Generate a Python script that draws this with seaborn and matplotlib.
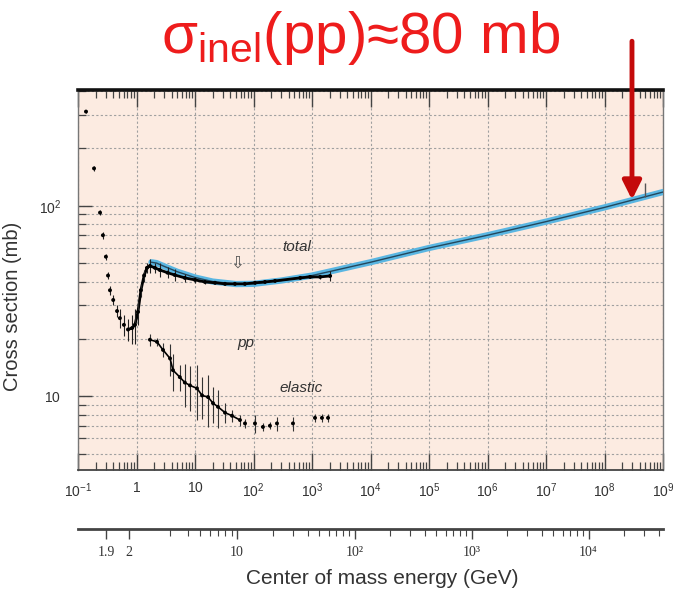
import numpy as np
import matplotlib
matplotlib.use("Agg")
import matplotlib.pyplot as plt
import matplotlib.ticker as mticker
import seaborn as sns

# ---------------- data ----------------
# total pp cross section: lab momentum (GeV/c), sigma (mb), error (mb)
total_p = [0.137, 0.188, 0.238, 0.267, 0.30, 0.326, 0.352, 0.40, 0.465, 0.52,
           0.61, 0.716, 0.84, 0.94, 1.06, 1.19, 1.35, 1.51, 1.70, 2.07, 2.5,
           3.4, 4.5, 6.7, 10, 14.8, 21.9, 32.5, 48, 71, 106, 157, 233, 630,
           930, 1380, 2040]
total_s = [312, 157, 92, 70, 54, 43, 36, 32, 28, 25.7, 23.7, 22.4, 22.8, 23.7,
           27.7, 36, 43, 47.2, 48.3, 47.2, 46, 44.5, 43.3, 41.8, 40.8, 39.8,
           39.4, 38.9, 38.9, 38.9, 39.4, 39.8, 40.3, 41.8, 42.3, 42.3, 42.8]
total_e = [6, 4, 3, 3, 2, 2, 2, 2, 2, 3, 3, 3, 4, 5, 4, 3, 3, 3, 4, 3, 4,
           3, 3, 2, 1.5, 1, 0.8, 0.6, 0.6, 0.5, 0.5, 0.5, 0.6, 0.8, 0.8,
           1.0, 2.5]

# elastic pp cross section
el_p = [1.70, 2.24, 2.84, 3.74, 4.2, 5.5, 6.7, 8.2, 10.8, 13.2, 16.7, 20.3,
        24.7, 32.6, 42.9, 58.7, 71.6, 106, 145, 191, 252, 473, 1125, 1480, 1880]
el_s = [19.8, 19.3, 17.5, 15.8, 13.7, 12.6, 11.8, 11.4, 11.0, 10.1, 9.9, 9.2,
        8.8, 8.2, 7.9, 7.5, 7.2, 7.2, 6.9, 7.0, 7.2, 7.2, 7.7, 7.7, 7.7]
el_e = [1.5, 1.0, 1.5, 3.0, 3.0, 2.0, 3.0, 3.0, 3.5, 2.5, 3.0, 2.0, 2.0, 1.0,
        0.6, 0.5, 0.4, 0.8, 0.3, 0.3, 0.6, 0.6, 0.4, 0.4, 0.4]

# fitted total cross section (blue band)
fit_p = [1.8, 2.2, 3.0, 5, 10, 20, 50, 100, 300, 1e3, 1e4, 1e5, 1e6, 1e7, 1e8, 1e9]
fit_s = [50.5, 50, 48, 45, 42, 40, 38.8, 38.9, 40.5, 43, 50.5, 60, 70, 82.5, 98, 118]

# cosmic-ray point
cr_p = [4.9e8]
cr_s = [121]
cr_e = [10]

# tick labels
x_major = [1e-1, 1, 10, 1e2, 1e3, 1e4, 1e5, 1e6, 1e7, 1e8, 1e9]
x_labels = [r"$\mathit{10^{-1}}$", r"$\mathit{1}$", r"$\mathit{10}$",
            r"$\mathit{10^{2}}$", r"$\mathit{10^{3}}$", r"$\mathit{10^{4}}$",
            r"$\mathit{10^{5}}$", r"$\mathit{10^{6}}$", r"$\mathit{10^{7}}$",
            r"$\mathit{10^{8}}$", r"$\mathit{10^{9}}$"]
y_major = [10, 100]
y_labels = [r"$\mathit{10}$", r"$\mathit{10^{2}}$"]
sqrts_major = [1.9, 2, 10, 100, 1000, 10000]
sqrts_labels = ["1.9", "2", "10", "10²", "10³", "10⁴"]
sqrts_minor = [3, 4, 5, 6, 7, 8, 9, 20, 30, 40, 50, 60, 70, 80, 90,
               200, 300, 400, 500, 600, 700, 800, 900,
               2000, 3000, 4000, 5000, 6000, 7000, 8000, 9000,
               20000, 30000, 40000]

# ---------------- style ----------------
sns.set_theme(style="white")
plt.rcParams["font.family"] = ["Liberation Sans", "DejaVu Sans"]
plt.rcParams["mathtext.fontset"] = "custom"
plt.rcParams["mathtext.rm"] = "Liberation Sans"
plt.rcParams["mathtext.it"] = "Liberation Sans:italic"
plt.rcParams["mathtext.bf"] = "Liberation Sans:bold"

fig = plt.figure(figsize=(6.78, 5.94), dpi=100)
fig.patch.set_facecolor("white")
ax = fig.add_axes([78 / 678, 1 - 470 / 594, 585 / 678, 380 / 594])
ax.set_facecolor("#fcebe1")
ax.set_xscale("log")
ax.set_yscale("log")
ax.set_xlim(1e-1, 1e9)
ax.set_ylim(4.1, 405)

# grid
ax.yaxis.set_minor_locator(mticker.LogLocator(base=10, subs=np.arange(2, 10)))
ax.xaxis.set_minor_locator(mticker.LogLocator(base=10, subs=np.arange(2, 10), numticks=30))
ax.xaxis.set_major_locator(mticker.FixedLocator(x_major))
ax.yaxis.set_major_locator(mticker.FixedLocator(y_major))
ax.xaxis.set_major_formatter(mticker.FixedFormatter(x_labels))
ax.yaxis.set_major_formatter(mticker.FixedFormatter(y_labels))
ax.xaxis.set_minor_formatter(mticker.NullFormatter())
ax.yaxis.set_minor_formatter(mticker.NullFormatter())
ax.grid(True, which="major", axis="x", color="#a0a0a0", lw=0.8, ls=(0, (2, 2)))
ax.grid(True, which="both", axis="y", color="#a0a0a0", lw=0.8, ls=(0, (2, 2)))

# fit band
sns.lineplot(x=fit_p, y=fit_s, ax=ax, color="#5ab6e2", lw=4.5, zorder=3)
sns.lineplot(x=fit_p, y=fit_s, ax=ax, color="#24475c", lw=1.0, zorder=4)

# total data
tp = np.array(total_p); ts = np.array(total_s)
mask = tp >= 0.7
sns.lineplot(x=tp[mask], y=ts[mask], ax=ax, color="black", lw=2.0, zorder=5)
ax.errorbar(total_p, total_s, yerr=total_e, fmt="none", ecolor="#222222",
            elinewidth=0.8, zorder=5)
sns.scatterplot(x=total_p, y=total_s, ax=ax, color="black", s=8,
                edgecolor="none", zorder=6)

# elastic data
ax.errorbar(el_p, el_s, yerr=el_e, fmt="none", ecolor="#333333",
            elinewidth=0.8, zorder=5)
sns.lineplot(x=el_p[:16], y=el_s[:16], ax=ax, color="black", lw=1.2, zorder=5)
sns.scatterplot(x=el_p, y=el_s, ax=ax, color="black", s=8,
                edgecolor="none", zorder=6)

# cosmic ray point
ax.errorbar(cr_p, cr_s, yerr=cr_e, fmt="none", ecolor="#555555",
            elinewidth=1.0, zorder=5)

# annotations
ax.text(555, 60.8, "total", style="italic", fontsize=11, color="#333333",
        ha="center", va="center")
ax.text(74.5, 19.0, "pp", style="italic", fontsize=11, color="#333333",
        ha="center", va="center")
ax.text(649, 11.1, "elastic", style="italic", fontsize=11, color="#333333",
        ha="center", va="center")
ax.text(52, 50, "⇩", fontsize=12, color="#555555", ha="center", va="center",
        family=["DejaVu Sans"])

# spines & ticks
for s in ["left", "right", "bottom"]:
    ax.spines[s].set_color("#777777")
    ax.spines[s].set_linewidth(1.0)
ax.spines["bottom"].set_color("#444444")
ax.spines["bottom"].set_linewidth(1.3)
ax.spines["top"].set_color("#111111")
ax.spines["top"].set_linewidth(2.6)
ax.tick_params(axis="x", which="major", direction="in", length=12, width=1.0,
               top=True, bottom=True, color="#444444", pad=8, labelsize=10,
               labelcolor="#333333")
ax.tick_params(axis="x", which="minor", direction="in", length=6, width=0.9,
               top=True, bottom=True, color="#444444")
ax.tick_params(axis="y", which="major", direction="in", length=10, width=1.0,
               left=True, right=False, color="#444444", pad=12, labelsize=10,
               labelcolor="#333333")
ax.tick_params(axis="y", which="minor", direction="in", length=6, width=0.9,
               left=True, right=False, color="#444444")

ax.set_ylabel("Cross section (mb)", fontsize=14.5, color="#333333")
ax.yaxis.set_label_coords(-0.096, 0.43)
ax.set_xlabel("")

# red arrow and title
ax.annotate("", xy=(2.95e8, 107.5), xytext=(2.95e8, 730),
            arrowprops=dict(arrowstyle="-|>", color="#c40a0a", lw=3.5,
                            mutation_scale=28, shrinkA=0, shrinkB=0),
            annotation_clip=False, zorder=10)
fig.text(0.532, 0.936, r"σ$_{\mathrm{inel}}$(pp)≈80 mb", color="#ee1c1c",
         fontsize=42, ha="center", va="center")

# secondary (centre-of-mass energy) axis
m = 0.938
def p_from_sqrts(w):
    w = np.asarray(w, dtype=float)
    E = (w ** 2 - 2 * m ** 2) / (2 * m)
    return np.sqrt(E ** 2 - m ** 2)

ax2 = fig.add_axes([78 / 678, 1 - 529 / 594, 585 / 678, 0.0001])
ax2.set_xscale("log")
ax2.set_xlim(1e-1, 1e9)
ax2.set_yticks([])
ax2.patch.set_alpha(0)
for s in ["left", "right", "top"]:
    ax2.spines[s].set_visible(False)
ax2.spines["bottom"].set_color("#444444")
ax2.spines["bottom"].set_linewidth(2.0)
ax2.xaxis.set_major_locator(mticker.FixedLocator(p_from_sqrts(sqrts_major)))
ax2.xaxis.set_major_formatter(mticker.FixedFormatter(sqrts_labels))
ax2.xaxis.set_minor_locator(mticker.FixedLocator(p_from_sqrts(sqrts_minor)))
ax2.xaxis.set_minor_formatter(mticker.NullFormatter())
ax2.tick_params(axis="x", which="major", direction="out", length=7, width=1.0,
                bottom=True, top=False, color="#444444", pad=5, labelsize=10,
                labelcolor="#333333")
ax2.tick_params(axis="x", which="minor", direction="out", length=5, width=0.8,
                bottom=True, top=False, color="#444444")
for lab in ax2.get_xticklabels():
    lab.set_family(["Liberation Serif", "DejaVu Serif"])

fig.text(382 / 678, 1 - 578 / 594, "Center of mass energy (GeV)", fontsize=15,
         color="#333333", ha="center", va="center")

fig.savefig("out.png", dpi=100)
